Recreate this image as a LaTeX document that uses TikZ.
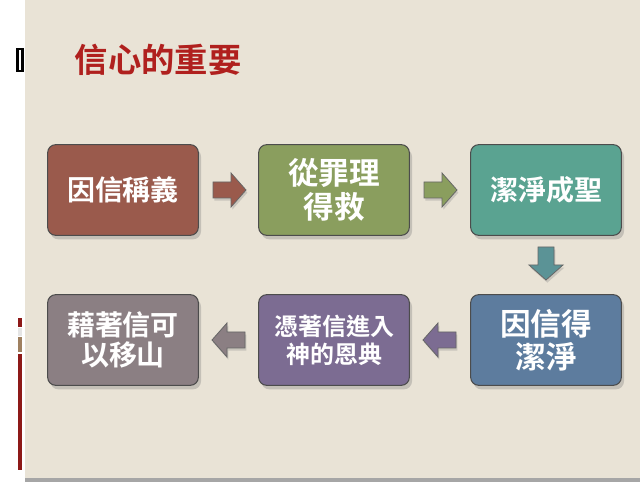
\documentclass[tikz,border=0pt]{standalone}
\usepackage{fontspec}
\newfontfamily\cjk{Noto Sans CJK TC}[BoldFont={* Bold}]
\usetikzlibrary{shadows}
\definecolor{bgc}{HTML}{E9E3D6}
\definecolor{cA}{HTML}{9A5A4C}
\definecolor{cB}{HTML}{8A9E5E}
\definecolor{cC}{HTML}{5AA391}
\definecolor{cD}{HTML}{5D7C9E}
\definecolor{cE}{HTML}{7C6C92}
\definecolor{cF}{HTML}{8B7F83}
\definecolor{tred}{HTML}{B0201E}
\tikzset{
 boxst/.style={draw=black!70,line width=0.8pt,rounded corners=6pt,minimum width=113pt,minimum height=68pt,text=white,font=\cjk\bfseries\fontsize{21}{24}\selectfont,align=center,drop shadow={opacity=0.35,shadow xshift=2pt,shadow yshift=-3pt}},
 arrst/.style={draw=black!60,line width=0.6pt,drop shadow={opacity=0.3,shadow xshift=1pt,shadow yshift=-2pt}}
}
\newcommand\flowarrow[4]{% x, y, angle, colour
 \begin{scope}[shift={(#1,#2)},rotate=#3]
 \path[arrst,fill=#4] (-16,-8) -- (2,-8) -- (2,-17) -- (17,0) -- (2,17) -- (2,8) -- (-16,8) -- cycle;
 \end{scope}}
\begin{document}
\begin{tikzpicture}[x=0.75pt,y=-0.75pt]
\useasboundingbox (0,0) rectangle (644,484);
\fill[white] (0,0) rectangle (644,484);
\fill[bgc] (25,0) rectangle (640,478);
\fill[gray!70] (25,478) rectangle (640,482);
\fill[black] (16,48) rectangle (24,72);
\fill[white] (19,50) rectangle (21,70);
\fill[tred!80!black] (18,318) rectangle (22,327);
\fill[gray!20] (18,328) rectangle (22,336);
\fill[brown!50!gray] (18,337) rectangle (22,352);
\fill[tred!80!black] (18,354) rectangle (22,470);
\node[anchor=west,text=tred,font=\cjk\bfseries\fontsize{25}{28}\selectfont] (title) at (70,60) {信心的重要};
\node[boxst,fill=cA] (a) at (123,190) {因信稱義};
\node[boxst,fill=cB,font=\cjk\bfseries\fontsize{23}{25}\selectfont] (b) at (334,190) {從罪理\\得救};
\node[boxst,fill=cC] (c) at (546,190) {潔淨成聖};
\node[boxst,fill=cD,font=\cjk\bfseries\fontsize{23}{25}\selectfont] (d) at (546,340) {因信得\\潔淨};
\node[boxst,fill=cE,font=\cjk\bfseries\fontsize{18}{21}\selectfont] (e) at (334,340) {憑著信進入\\神的恩典};
\node[boxst,fill=cF,font=\cjk\bfseries\fontsize{21}{23}\selectfont] (f) at (123,340) {藉著信可\\以移山};
\flowarrow{229}{190}{0}{cA}
\flowarrow{440}{190}{0}{cB}
\flowarrow{546}{263}{-90}{cC!60!cD}
\flowarrow{440}{340}{180}{cE}
\flowarrow{229}{340}{180}{cF}
\end{tikzpicture}
\end{document}
